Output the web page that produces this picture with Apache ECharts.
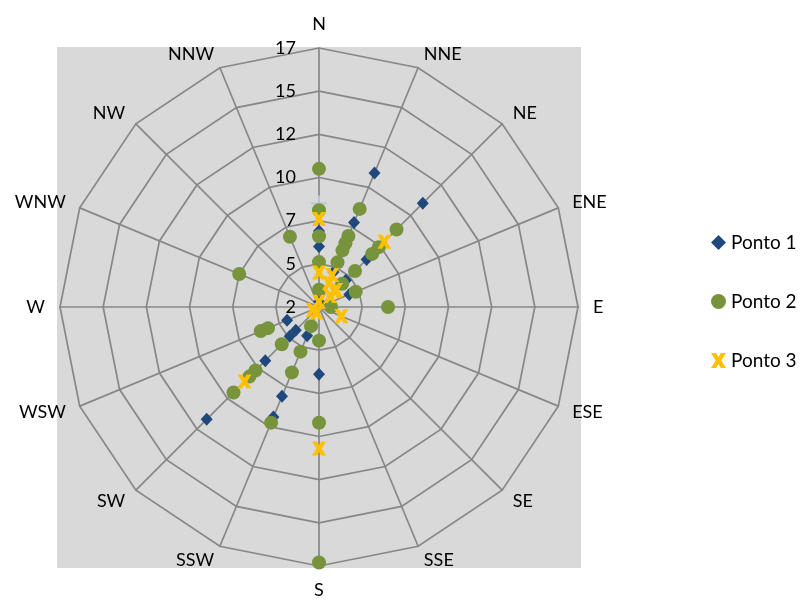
<!DOCTYPE html>
<html>
<head>
<meta charset="utf-8">
<script src="https://cdn.jsdelivr.net/npm/echarts@6/dist/echarts.min.js"></script>
<style>
  html, body { margin: 0; padding: 0; background: #fff; }
  #chart { width: 802px; height: 601px; }
</style>
</head>
<body>
<div id="chart"></div>
<script>
// Wind directions, clockwise from north
const directions = ['N', 'NNE', 'NE', 'ENE', 'E', 'ESE', 'SE', 'SSE',
                    'S', 'SSW', 'SW', 'WSW', 'W', 'WNW', 'NW', 'NNW'];

// Radial scale
const radiusMin = 2.5;
const radiusMax = 17.5;
const radiusStep = 2.5;

// Observations as [direction, value]
const ponto1 = [
  ['NNE', 10.9], ['NE', 11.0], ['NNE', 7.8], ['N', 6.9], ['N', 6.0],
  ['NE', 6.4], ['NE', 4.7], ['NNE', 4.7], ['ENE', 4.4], ['N', 2.8],
  ['WSW', 4.5], ['SW', 4.4], ['SW', 4.9], ['SSW', 4.3], ['SW', 6.9],
  ['SSW', 8.1], ['SSW', 9.4], ['SW', 11.7], ['S', 6.4]
];

const ponto2 = [
  ['N', 10.5], ['N', 8.1], ['N', 6.6], ['N', 5.1], ['N', 3.5],
  ['NNW', 6.9], ['WNW', 7.5], ['NNE', 8.65], ['NNE', 6.95], ['NNE', 6.5],
  ['NNE', 6.05], ['NNE', 5.3], ['NE', 8.85], ['NE', 7.4], ['NE', 6.85],
  ['NE', 5.45], ['NE', 4.4], ['ENE', 4.8], ['E', 6.5], ['E', 3.2],
  ['SSW', 3.7], ['S', 4.45], ['WSW', 6.15], ['WSW', 5.7], ['SW', 5.55],
  ['SSW', 5.3], ['SW', 7.7], ['SW', 8.2], ['SSW', 6.6], ['SW', 9.5],
  ['SSW', 9.75], ['S', 9.2], ['S', 17.3]
];

const ponto3 = [
  ['N', 7.6], ['NE', 7.85], ['N', 4.5], ['NNE', 4.5], ['NNE', 4.0],
  ['NE', 3.9], ['NE', 3.8], ['NE', 3.4], ['N', 2.8], ['WSW', 2.9],
  ['ESE', 3.9], ['SW', 8.6], ['S', 10.7], ['SSW', 2.85]
];

// Single light reference cross on the north axis
const referenceMark = [['N', 8.5]];

const seriesNames = ['Ponto 1', 'Ponto 2', 'Ponto 3'];

const toPolar = list => list.map(([dir, v]) => [v, directions.indexOf(dir)]);

const fontFamily = 'Lato, "Open Sans", sans-serif';
const gridColor = '#878787';
const center = [319, 307];
const outerRadius = 259;

const crossPath = 'path://M0,0 L3.4,0 L5,2.6 L6.6,0 L10,0 L6.9,5 L10,10 L6.6,10 L5,7.4 L3.4,10 L0,10 L3.1,5 Z';
const plusPath = 'path://M4.4,0 H5.6 V4.4 H10 V5.6 H5.6 V10 H4.4 V5.6 H0 V4.4 H4.4 Z';

const chart = echarts.init(document.getElementById('chart'), null, { renderer: 'canvas' });

chart.setOption({
  backgroundColor: '#ffffff',
  animation: false,
  textStyle: { fontFamily: fontFamily },
  graphic: {
    elements: [{
      type: 'rect',
      z: -100,
      silent: true,
      shape: { x: 57, y: 47, width: 524, height: 521 },
      style: { fill: '#D9D9D9' }
    }]
  },
  // Polygon grid and compass labels (radar indicators run counter-clockwise)
  radar: {
    center: center,
    radius: outerRadius,
    startAngle: 90,
    shape: 'polygon',
    splitNumber: (radiusMax - radiusMin) / radiusStep,
    indicator: [directions[0]].concat(directions.slice(1).reverse())
      .map(name => ({ name: name, min: radiusMin, max: radiusMax })),
    axisName: { color: '#000', fontSize: 18, fontFamily: fontFamily },
    nameGap: 15,
    axisLine: { lineStyle: { color: gridColor, width: 1.7 } },
    splitLine: { lineStyle: { color: gridColor, width: 1.7 } },
    splitArea: { show: false },
    axisTick: { show: false },
    axisLabel: { show: false }
  },
  polar: { center: center, radius: outerRadius },
  angleAxis: {
    type: 'category',
    data: directions,
    startAngle: 90,
    clockwise: true,
    boundaryGap: false,
    axisLine: { show: false },
    axisTick: { show: false },
    axisLabel: { show: false },
    splitLine: { show: false }
  },
  radiusAxis: {
    type: 'value',
    min: radiusMin,
    max: radiusMax,
    interval: radiusStep,
    axisLine: { show: false },
    axisTick: { show: false },
    splitLine: { show: false },
    axisLabel: {
      color: '#000',
      fontSize: 18,
      fontFamily: fontFamily,
      margin: 23,
      formatter: v => String(Math.floor(v))
    },
    z: 10
  },
  legend: {
    orient: 'vertical',
    left: 706,
    top: 228,
    itemGap: 40,
    itemWidth: 15,
    itemHeight: 15,
    data: seriesNames,
    textStyle: { color: '#000', fontSize: 19, fontFamily: fontFamily }
  },
  series: [
    {
      name: seriesNames[0],
      type: 'scatter',
      coordinateSystem: 'polar',
      symbol: 'diamond',
      symbolSize: [12, 13],
      itemStyle: { color: '#1F497D', opacity: 1 },
      data: toPolar(ponto1)
    },
    {
      name: seriesNames[1],
      type: 'scatter',
      coordinateSystem: 'polar',
      symbol: 'circle',
      symbolSize: 14,
      itemStyle: { color: '#77933C', opacity: 1 },
      data: toPolar(ponto2)
    },
    {
      name: seriesNames[2],
      type: 'scatter',
      coordinateSystem: 'polar',
      symbol: crossPath,
      symbolSize: 14,
      itemStyle: { color: '#FFC000', opacity: 1 },
      data: toPolar(ponto3)
    },
    {
      name: 'ref',
      type: 'scatter',
      coordinateSystem: 'polar',
      symbol: plusPath,
      symbolSize: 16,
      itemStyle: { color: '#B9C3DA', opacity: 1 },
      z: 1,
      data: toPolar(referenceMark)
    }
  ]
});
</script>
</body>
</html>
